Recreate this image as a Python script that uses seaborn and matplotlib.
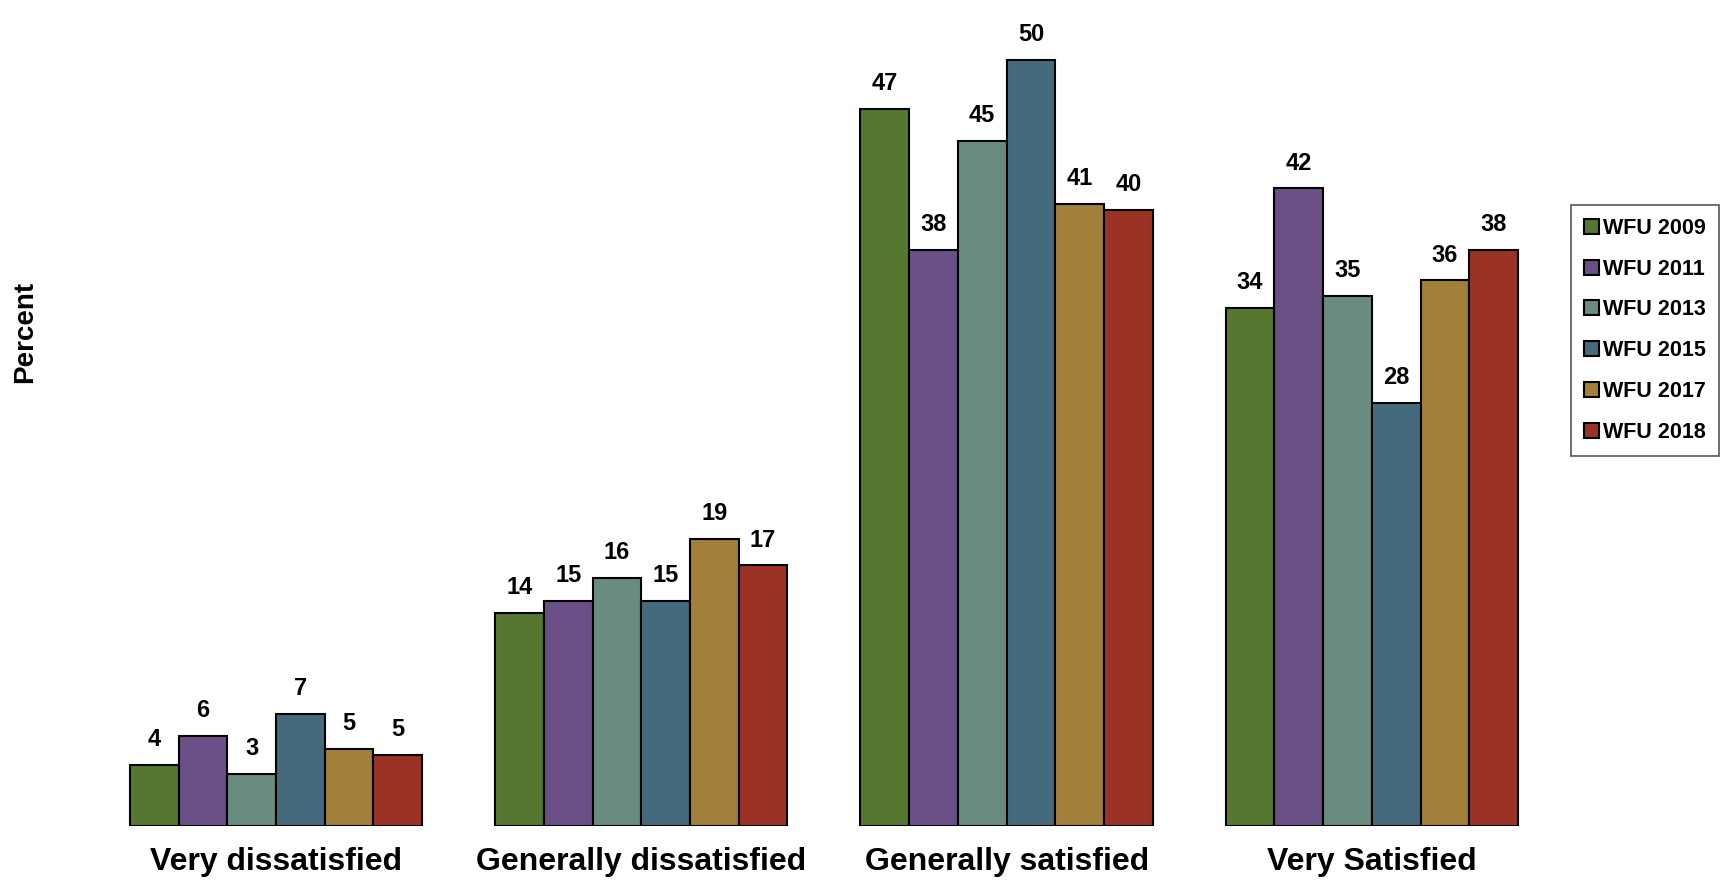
import matplotlib
matplotlib.use("Agg")
import matplotlib.pyplot as plt
import numpy as np
import pandas as pd
import seaborn as sns

# survey responses, percent of respondents
categories = ["Very dissatisfied", "Generally dissatisfied", "Generally satisfied", "Very Satisfied"]
years = ["WFU 2009", "WFU 2011", "WFU 2013", "WFU 2015", "WFU 2017", "WFU 2018"]
wfu_2009 = [3.96, 13.9, 46.8, 33.8]
wfu_2011 = [5.85, 14.7, 37.6, 41.6]
wfu_2013 = [3.39, 16.2, 44.7, 34.6]
wfu_2015 = [7.29, 14.7, 50.0, 27.6]
wfu_2017 = [5.00, 18.7, 40.6, 35.6]
wfu_2018 = [4.63, 17.0, 40.2, 37.6]
colors = ["#557730", "#6A5086", "#6A8B7F", "#456A7D", "#A2803A", "#9A3326"]

series = [wfu_2009, wfu_2011, wfu_2013, wfu_2015, wfu_2017, wfu_2018]
rows = []
for yr, vals in zip(years, series):
    for cat, v in zip(categories, vals):
        rows.append({"category": cat, "year": yr, "value": v})
df = pd.DataFrame(rows)

sns.set_style("white")
plt.rcParams['font.family'] = ['Liberation Sans', 'DejaVu Sans']
plt.rcParams['text.color'] = 'black'
plt.rcParams['xtick.color'] = 'black'
plt.rcParams['axes.labelcolor'] = 'black'

fig = plt.figure(figsize=(17.27, 8.9), dpi=100)
ax = fig.add_axes([0.0541, 0.072, 0.846, 0.928])

sns.barplot(data=df, x="category", y="value", hue="year", order=categories,
            hue_order=years, palette=colors, saturation=1, edgecolor="black",
            linewidth=1.5, width=0.8, ax=ax)

for cont in ax.containers:
    labels = [f"{round(v)}" for v in cont.datavalues]
    ax.bar_label(cont, labels=labels, padding=10, fontsize=17, fontweight="bold")

ax.set_ylim(0, 53.9)
ax.set_xlim(-0.5, 3.5)
ax.set_yticks([])
ax.set_xlabel("")
ax.set_ylabel("")
for s in ax.spines.values():
    s.set_visible(False)
ax.tick_params(axis="x", length=0, pad=15.5)
for t in ax.get_xticklabels():
    t.set_fontsize(23)
    t.set_fontweight("bold")

fig.text(0.0145, 0.627, "Percent", rotation=90, fontsize=20, fontweight="bold",
         ha="center", va="center")

ax.legend_.remove()
handles = [plt.Rectangle((0, 0), 1, 1, facecolor=c, edgecolor="black", linewidth=1.5)
           for c in colors]
leg = fig.legend(handles, years, loc="upper left", bbox_to_anchor=(0.9097, 0.7697),
                 prop={"weight": "bold", "size": 15.5},
                 handlelength=0.7, handleheight=0.7, handletextpad=0.2,
                 labelspacing=0.92, borderpad=0.6, borderaxespad=0,
                 fancybox=False, framealpha=1)
leg.get_frame().set_edgecolor("#555555")
leg.get_frame().set_linewidth(1.2)

plt.savefig("out.png", dpi=100)
